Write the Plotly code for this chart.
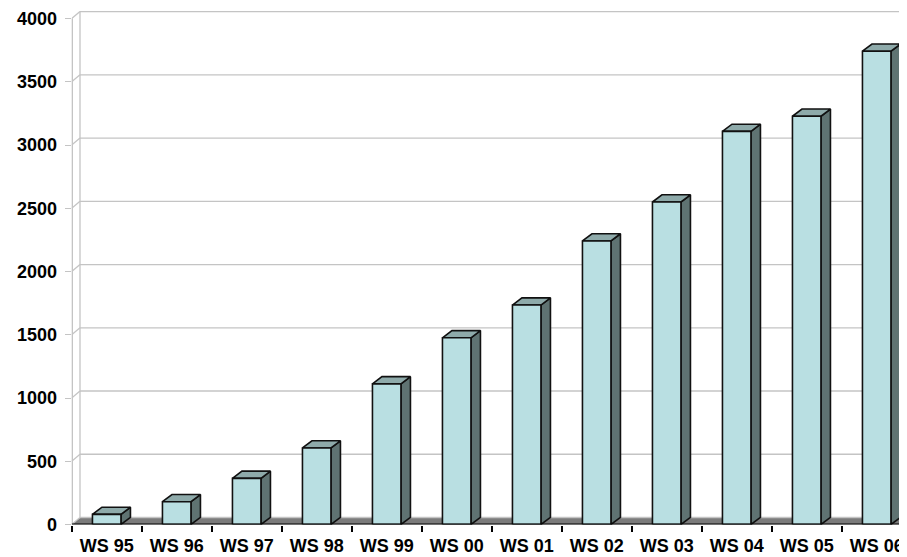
import plotly.graph_objects as go

categories = ["WS 95", "WS 96", "WS 97", "WS 98", "WS 99", "WS 00",
              "WS 01", "WS 02", "WS 03", "WS 04", "WS 05", "WS 06"]
values = [80, 180, 365, 605, 1112, 1476, 1735, 2242, 2550, 3108, 3228, 3742]
y_ticks = [0, 500, 1000, 1500, 2000, 2500, 3000, 3500, 4000]

# page body has an 8px margin; the figure is sized to end at the window edge
OFF = 8
W, H = 907 - OFF, 557 - OFF
# pixel geometry (window coordinates)
x_left_px = 71.7
cat_px = 70.0
y0_px = 524.5
y4000_px = 18.6
scale = (y0_px - y4000_px) / 4000.0  # px per unit
wall_dx_px, wall_dy_px = 8.3, 7.0
bar_dx_px, bar_dy_px = 9.5, 7.2
bar_w = 28.5 / cat_px

top_px = y4000_px - wall_dy_px - 1.5
x_max = -0.5 + (907 - x_left_px) / cat_px
y_max = (y0_px - top_px) / scale

wdx = wall_dx_px / cat_px
wdy = wall_dy_px / scale
bdx = bar_dx_px / cat_px
bdy = bar_dy_px / scale

xs = list(range(len(categories)))

fig = go.Figure()

# floor
fig.add_trace(go.Scatter(
    x=[-0.5, -0.5 + wdx, x_max + 1, x_max + 1, -0.5],
    y=[0, wdy, wdy, 0, 0],
    fill="toself", fillcolor="#7b7b7b", mode="lines",
    line=dict(color="#7b7b7b", width=0), hoverinfo="skip", showlegend=False))

# back wall gridlines + back vertical + connectors
gx, gy = [], []
for v in y_ticks:
    gx += [-0.5 + wdx, x_max + 1, None]
    gy += [v + wdy, v + wdy, None]
    gx += [-0.5, -0.5 + wdx, None]
    gy += [v, v + wdy, None]
gx += [-0.5 + wdx, -0.5 + wdx, None]
gy += [wdy, y_ticks[-1] + wdy, None]
fig.add_trace(go.Scatter(x=gx, y=gy, mode="lines",
                         line=dict(color="#c4c4c4", width=1.3),
                         hoverinfo="skip", showlegend=False))

# front vertical axis line
fig.add_trace(go.Scatter(x=[-0.5, -0.5], y=[0, y_ticks[-1]], mode="lines",
                         line=dict(color="#c4c4c4", width=2.6),
                         hoverinfo="skip", showlegend=False))

# bar faces
side_x, side_y, top_x, top_y, front_x, front_y = [], [], [], [], [], []
for x, v in zip(xs, values):
    l, r = x - bar_w / 2, x + bar_w / 2
    side_x += [r, r, r + bdx, r + bdx, r, None]
    side_y += [0, v, v + bdy, bdy, 0, None]
    top_x += [l, l + bdx, r + bdx, r, l, None]
    top_y += [v, v + bdy, v + bdy, v, v, None]
    front_x += [l, l, r, r, l, None]
    front_y += [0, v, v, 0, 0, None]

edge = dict(color="#111111", width=1.6)
fig.add_trace(go.Scatter(x=side_x, y=side_y, fill="toself", fillcolor="#5f7372",
                         mode="lines", line=edge, hoverinfo="skip", showlegend=False))
fig.add_trace(go.Scatter(x=top_x, y=top_y, fill="toself", fillcolor="#8eaaaa",
                         mode="lines", line=edge, hoverinfo="skip", showlegend=False))
fig.add_trace(go.Scatter(x=front_x, y=front_y, fill="toself", fillcolor="#b9dfe2",
                         mode="lines", line=edge, hoverinfo="skip", showlegend=False))

# black baseline along the front edge of the floor
fig.add_trace(go.Scatter(x=[-0.5, x_max + 1], y=[0, 0], mode="lines",
                         line=dict(color="black", width=2.2), hoverinfo="skip",
                         showlegend=False))

font = dict(family="Liberation Sans, Arial, sans-serif", size=18, color="black", weight="bold")

fig.update_layout(
    width=W, height=H, autosize=False,
    margin=dict(l=0, r=0, t=0, b=0),
    paper_bgcolor="white", plot_bgcolor="white",
    xaxis=dict(
        domain=[(x_left_px - OFF) / W, 1.0], range=[-0.5, x_max],
        automargin=False,
        tickmode="array", tickvals=xs, ticktext=categories,
        ticks="", showgrid=False, zeroline=False,
        showline=False,
        tickfont=font, ticklabelstandoff=8,
        minor=dict(tick0=-0.5, dtick=1, ticks="outside", ticklen=6,
                   tickcolor="black", tickwidth=1.5, showgrid=False),
    ),
    yaxis=dict(
        domain=[1 - (y0_px - OFF) / H, 1 - (top_px - OFF) / H], range=[0, y_max],
        automargin=False,
        tickmode="array", tickvals=y_ticks, ticktext=[str(v) for v in y_ticks],
        ticks="outside", ticklen=6, tickcolor="#c4c4c4", tickwidth=1.3,
        showgrid=False, zeroline=False, showline=False,
        tickfont=font, ticklabelstandoff=4,
    ),
)

fig.write_html("out.html")
